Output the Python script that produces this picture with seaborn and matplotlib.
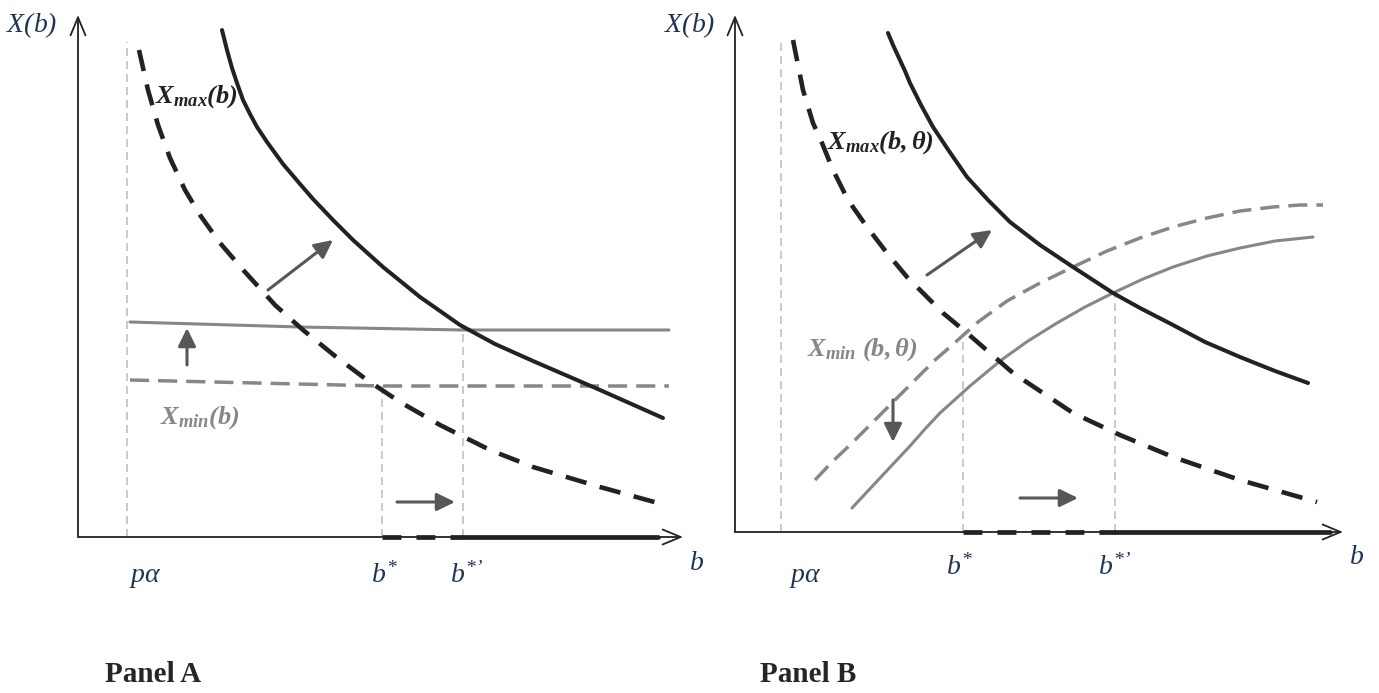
import matplotlib
matplotlib.use("Agg")
import matplotlib.pyplot as plt
import seaborn as sns

# ==============================
# Curve data (b, X), both panels
# ==============================
# Panel A
a_xmax_old_b = [6.1, 7.0, 8.0, 9.2, 10.7, 12.2, 14.2, 16.7, 19.7, 22.5, 25.7, 28.9, 32.2, 36.2, 41.2, 45.5, 52.2, 58.0]
a_xmax_old_x = [48.7, 44.7, 41.2, 37.9, 34.7, 32.2, 29.4, 26.5, 23.2, 20.7, 18.1, 15.7, 13.5, 11.2, 8.7, 7.0, 5.0, 3.4]
a_xmax_new_b = [14.4, 14.9, 15.4, 15.9, 16.5, 17.2, 17.9, 18.9, 20.5, 22.2, 23.5, 25.5, 27.5, 30.5,
                34.2, 38.2, 41.7, 45.5, 52.2, 58.5]
a_xmax_new_x = [50.7, 48.7, 46.9, 45.4, 43.7, 42.3, 41.0, 39.5, 37.3, 35.3, 33.8, 31.7, 29.7, 27.0,
                24.0, 21.2, 19.3, 17.6, 14.7, 11.9]
a_xmin_new_b = [5.2, 22.2, 38.5, 59.1]
a_xmin_new_x = [21.5, 21.0, 20.7, 20.7]
a_xmin_old_b = [5.2, 30.4, 59.1]
a_xmin_old_x = [15.7, 15.1, 15.1]
a_palpha, a_bstar, a_bstar2 = 4.9, 30.4, 38.5
a_palpha_top, a_bstar_top, a_bstar2_top = 49.5, 15.1, 20.7
a_b_end, a_x_top, a_b_tip = 58.0, 52.2, 60.5

# Panel B
b_xmax_old_b = [5.8, 6.8, 7.8, 8.7, 9.8, 11.3, 13.2, 15.2, 17.2, 20.8, 23.2, 27.8, 33.8, 38.5, 43.8, 50.5, 58.2]
b_xmax_old_x = [49.2, 44.2, 40.9, 38.9, 36.2, 33.2, 30.5, 27.9, 25.5, 21.9, 19.9, 15.9, 11.9, 9.7, 7.5, 5.2, 3.0]
b_xmax_new_b = [15.3, 15.8, 16.4, 17.0, 17.5, 18.6, 19.8, 21.4, 23.2, 25.3, 27.5, 30.5, 33.8, 37.8,
                40.5, 43.8, 47.0, 50.5, 54.0, 57.3]
b_xmax_new_x = [49.9, 48.7, 47.4, 46.1, 44.9, 42.7, 40.5, 38.1, 35.5, 33.2, 31.0, 28.7, 26.5, 23.9,
                22.4, 20.7, 19.0, 17.5, 16.1, 14.9]
b_xmin_old_b = [8.0, 9.7, 11.5, 13.2, 15.0, 16.8, 18.5, 20.0, 21.5, 24.3, 27.2, 30.5, 33.8, 37.2,
                40.5, 43.8, 47.2, 50.5, 53.8, 56.5, 58.8]
b_xmin_old_x = [5.2, 7.0, 8.7, 10.4, 12.2, 14.0, 15.7, 17.2, 18.5, 21.0, 23.1, 24.9, 26.5, 28.1,
                29.4, 30.5, 31.4, 32.1, 32.5, 32.7, 32.7]
b_xmin_new_b = [11.7, 13.1, 14.5, 16.0, 17.5, 19.0, 20.5, 23.5, 26.5, 29.3, 32.2, 35.0, 37.8, 40.8,
                43.8, 47.2, 50.5, 54.0, 57.8]
b_xmin_new_x = [2.4, 3.9, 5.4, 7.0, 8.6, 10.3, 11.9, 14.6, 17.1, 19.1, 20.9, 22.5, 23.9, 25.3,
                26.5, 27.6, 28.4, 29.1, 29.5]
b_palpha, b_bstar, b_bstar2 = 4.6, 22.8, 38.0
b_palpha_top, b_bstar_top, b_bstar2_top = 49.2, 19.7, 23.9
b_b_end, b_x_top, b_b_tip = 59.5, 51.7, 60.8

# shift arrows: (start, end)
a_arrows = [((19.0, 24.7), (25.5, 29.7)), ((10.9, 17.2), (10.9, 20.9)), ((31.9, 3.5), (37.7, 3.5))]
b_arrows = [((19.2, 25.7), (25.7, 30.2)), ((15.8, 13.2), (15.8, 9.0)), ((28.5, 3.4), (34.3, 3.4))]

# ==============================
# Style
# ==============================
sns.set_style("white")
plt.rcParams["font.family"] = ["Liberation Serif", "DejaVu Serif"]
plt.rcParams["mathtext.fontset"] = "custom"
plt.rcParams["mathtext.rm"] = "Liberation Serif:italic"
plt.rcParams["mathtext.it"] = "Liberation Serif:italic"
plt.rcParams["mathtext.bf"] = "Liberation Serif:bold:italic"

BLACK = "#222222"
GRAY = "#878787"
LIGHT = "#c6c6c6"
ARROW = "#575757"
NAVY = "#1e3457"


def curve(ax, b, x, color, lw, ls="-"):
    sns.lineplot(x=b, y=x, ax=ax, color=color, linewidth=lw, linestyle=ls,
                 estimator=None, sort=False, legend=False,
                 solid_joinstyle="round", dash_joinstyle="round")


def draw_panel(ax, p):
    # axes with open arrow heads
    chevron = dict(arrowstyle="->,head_length=0.65,head_width=0.27", lw=1.3,
                   color=BLACK, shrinkA=0, shrinkB=0, mutation_scale=20)
    ax.annotate("", xy=(0, p["x_top"]), xytext=(0, 0), arrowprops=chevron)
    ax.annotate("", xy=(p["b_tip"], 0), xytext=(0, 0), arrowprops=chevron)

    # light guide lines
    for b0, top in [(p["palpha"], p["palpha_top"]), (p["bstar"], p["bstar_top"]),
                    (p["bstar2"], p["bstar2_top"])]:
        curve(ax, [b0, b0], [0, top], LIGHT, 1.3, (0, (4.4, 2.8)))

    # X_min curves (gray)
    curve(ax, p["xmin_old_b"], p["xmin_old_x"], GRAY, 2.5, (0, (5.5, 2.6)))
    curve(ax, p["xmin_new_b"], p["xmin_new_x"], GRAY, 2.2)
    # X_max curves (black)
    curve(ax, p["xmax_old_b"], p["xmax_old_x"], BLACK, 3.3, (0, (4.7, 3.0)))
    curve(ax, p["xmax_new_b"], p["xmax_new_x"], BLACK, 2.9)

    # feasible range on the b axis
    curve(ax, [p["bstar"], p["bstar2"]], [0, 0], BLACK, 3.4, (0, (4.0, 3.2)))
    curve(ax, [p["bstar2"], p["b_end"]], [0, 0], BLACK, 3.4)

    # shift arrows
    for start, end in p["arrows"]:
        ax.annotate("", xy=end, xytext=start,
                    arrowprops=dict(arrowstyle="-|>,head_length=0.55,head_width=0.27",
                                    lw=2.2, color=ARROW, shrinkA=0, shrinkB=0,
                                    mutation_scale=20))

    ax.set_xlim(p["xlim"])
    ax.set_ylim(p["ylim"])
    ax.axis("off")


fig = plt.figure(figsize=(13.79, 6.93), dpi=100)
axA = fig.add_axes([0, 0, 689 / 1379, 1])
axB = fig.add_axes([689 / 1379, 0, 690 / 1379, 1])

draw_panel(axA, dict(
    xmax_old_b=a_xmax_old_b, xmax_old_x=a_xmax_old_x,
    xmax_new_b=a_xmax_new_b, xmax_new_x=a_xmax_new_x,
    xmin_old_b=a_xmin_old_b, xmin_old_x=a_xmin_old_x,
    xmin_new_b=a_xmin_new_b, xmin_new_x=a_xmin_new_x,
    palpha=a_palpha, bstar=a_bstar, bstar2=a_bstar2,
    palpha_top=a_palpha_top, bstar_top=a_bstar_top, bstar2_top=a_bstar2_top,
    b_end=a_b_end, x_top=a_x_top, b_tip=a_b_tip, arrows=a_arrows,
    xlim=(-7.8, 61.1), ylim=(-15.6, 53.7)))

draw_panel(axB, dict(
    xmax_old_b=b_xmax_old_b, xmax_old_x=b_xmax_old_x,
    xmax_new_b=b_xmax_new_b, xmax_new_x=b_xmax_new_x,
    xmin_old_b=b_xmin_old_b, xmin_old_x=b_xmin_old_x,
    xmin_new_b=b_xmin_new_b, xmin_new_x=b_xmin_new_x,
    palpha=b_palpha, bstar=b_bstar, bstar2=b_bstar2,
    palpha_top=b_palpha_top, bstar_top=b_bstar_top, bstar2_top=b_bstar2_top,
    b_end=b_b_end, x_top=b_x_top, b_tip=b_b_tip, arrows=b_arrows,
    xlim=(-4.6, 64.4), ylim=(-16.1, 53.2)))

# ==============================
# Labels
# ==============================
lab = dict(color=NAVY, fontsize=20, ha="center", va="center")
# Panel A
axA.text(-4.6, 51.2, r"$X(b)$", **lab)
axA.text(6.7, -4.0, r"$p\alpha$", **lab)
axA.text(30.7, -3.8, r"$b^{*}$", **lab)
axA.text(38.9, -3.8, r"$b^{*’}$", **lab)
axA.text(61.9, -2.6, r"$b$", **lab)
axA.text(7.7, 44.0, r"$\mathbf{X_{max}(b)}$", color=BLACK, fontsize=19, ha="left", va="center")
axA.text(8.2, 11.9, r"$\mathbf{X_{min}(b)}$", color=GRAY, fontsize=19, ha="left", va="center")
axA.text(2.7, -13.8, "Panel A", fontsize=21, fontweight="bold", ha="left", va="center")

# Panel B
axB.text(-4.5, 50.7, r"$X(b)$", **lab)
axB.text(7.0, -4.5, r"$p\alpha$", **lab)
axB.text(22.5, -3.5, r"$b^{*}$", **lab)
axB.text(38.0, -3.5, r"$b^{*’}$", **lab)
axB.text(62.2, -2.6, r"$b$", **lab)
axB.text(9.2, 38.9, r"$\mathbf{X_{max}(b,\theta)}$", color=BLACK, fontsize=19, ha="left", va="center")
axB.text(7.2, 18.2, r"$\mathbf{X_{min}\ (b,\theta)}$", color=GRAY, fontsize=19, ha="left", va="center")
axB.text(2.5, -14.3, "Panel B", fontsize=21, fontweight="bold", ha="left", va="center")

fig.savefig("out.png", dpi=100, facecolor="white")
